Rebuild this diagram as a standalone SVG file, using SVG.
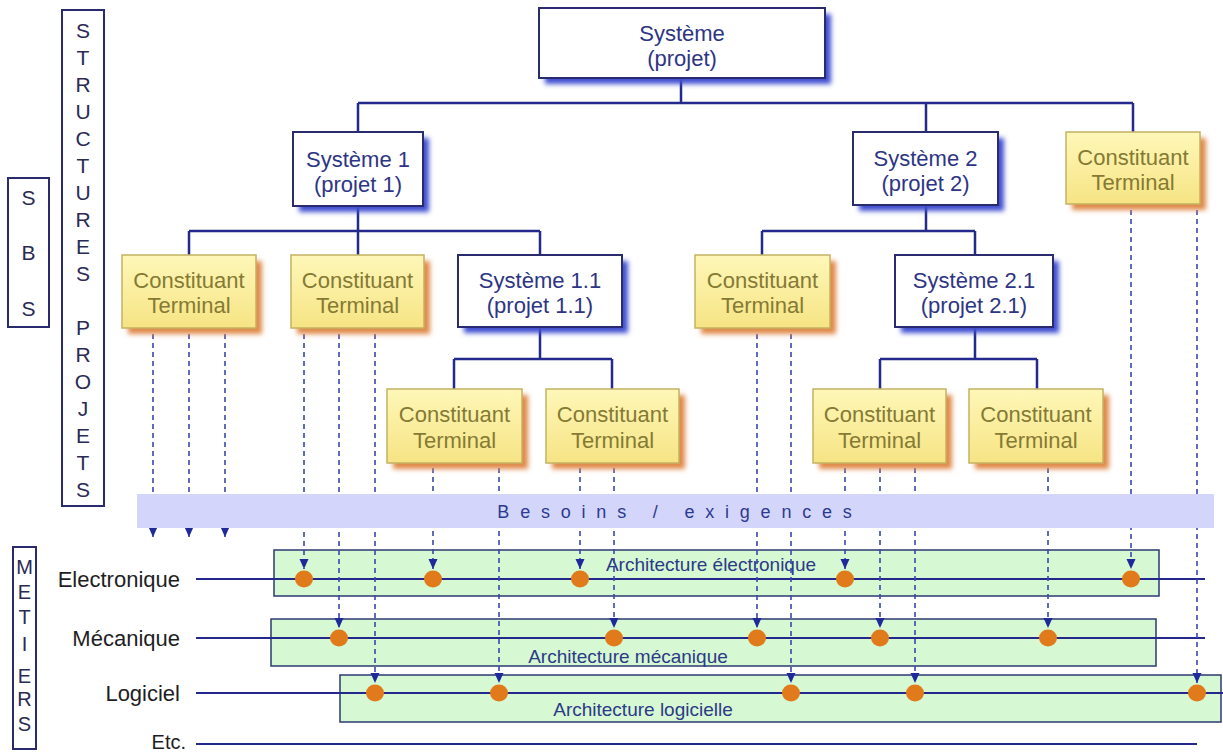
<svg xmlns="http://www.w3.org/2000/svg" width="1223" height="753" viewBox="0 0 1223 753">
<defs>
<style>
text{font-family:"Liberation Sans",Arial,sans-serif;}
.sys{fill:#ffffff;stroke:#2a2b6e;stroke-width:2;}
.ct{fill:url(#gY);stroke:#c4b263;stroke-width:1.5;}
.shB{fill:#3f4fd0;filter:url(#blur);}
.shY{fill:#e0894a;filter:url(#blur);}
.tS{font-size:22px;fill:#2e3584;text-anchor:middle;}
.tC{font-size:22px;fill:#857a34;text-anchor:middle;}
.conn{stroke:#232a8c;stroke-width:2.5;fill:none;}
.dash{stroke:#3a48a8;stroke-width:1.6;stroke-dasharray:5 4;fill:none;}
.met{stroke:#23288a;stroke-width:2;}
.grn{fill:#d6f8d2;stroke:#2c3a72;stroke-width:1.5;}
.dot{fill:#e07a1a;}
.lbl{font-size:22px;fill:#1e1e24;text-anchor:end;}
.arch{font-size:19px;fill:#2c3a88;text-anchor:middle;}
.vbox{fill:#ffffff;stroke:#2a2b6e;stroke-width:2;}
.vl{font-size:21px;fill:#2a2a55;text-anchor:middle;}
.vm{font-size:20px;fill:#2a2a55;text-anchor:middle;}
</style>
<linearGradient id="gY" x1="0" y1="0" x2="0" y2="1">
<stop offset="0" stop-color="#fef7b8"/>
<stop offset="1" stop-color="#f6e484"/>
</linearGradient>
<filter id="blur" x="-20%" y="-30%" width="140%" height="160%"><feGaussianBlur stdDeviation="2.5"/></filter>
<marker id="arr" markerUnits="userSpaceOnUse" markerWidth="10" markerHeight="10" viewBox="0 0 10 10" refX="10" refY="5" orient="auto">
<path d="M0,0.5 L10,5 L0,9.5 z" fill="#1f2a9a" stroke="none"/>
</marker>
</defs>
<rect x="0" y="0" width="1223" height="753" fill="#ffffff"/>

<!-- left vertical labels -->
<g id="sbs">
<rect class="vbox" x="8" y="178" width="41" height="149"/>
<text class="vl" x="28.5" y="205">S</text>
<text class="vl" x="28.5" y="260">B</text>
<text class="vl" x="28.5" y="316">S</text>
</g>
<g id="structures-projets">
<rect class="vbox" x="62" y="10" width="42" height="496"/>
<text class="vl" x="83" y="38">S</text>
<text class="vl" x="83" y="65">T</text>
<text class="vl" x="83" y="92">R</text>
<text class="vl" x="83" y="119">U</text>
<text class="vl" x="83" y="146">C</text>
<text class="vl" x="83" y="173">T</text>
<text class="vl" x="83" y="200">U</text>
<text class="vl" x="83" y="227">R</text>
<text class="vl" x="83" y="254">E</text>
<text class="vl" x="83" y="281">S</text>
<text class="vl" x="83" y="335">P</text>
<text class="vl" x="83" y="362">R</text>
<text class="vl" x="83" y="389">O</text>
<text class="vl" x="83" y="416">J</text>
<text class="vl" x="83" y="443">E</text>
<text class="vl" x="83" y="470">T</text>
<text class="vl" x="83" y="497">S</text>
</g>
<g id="metiers">
<rect class="vbox" x="13" y="547" width="23" height="202"/>
<text class="vm" x="24.5" y="574">M</text>
<text class="vm" x="24.5" y="599">E</text>
<text class="vm" x="24.5" y="624">T</text>
<text class="vm" x="24.5" y="651">I</text>
<text class="vm" x="24.5" y="683">E</text>
<text class="vm" x="24.5" y="706">R</text>
<text class="vm" x="24.5" y="731">S</text>
</g>

<!-- metier lanes -->
<g id="lanes">
<rect class="grn" x="274" y="550" width="885" height="46"/>
<rect class="grn" x="271" y="619" width="885" height="47"/>
<rect class="grn" x="340" y="675" width="881" height="47"/>
<line class="met" x1="196" y1="579" x2="1205" y2="579"/>
<line class="met" x1="196" y1="638" x2="1205" y2="638"/>
<line class="met" x1="196" y1="693" x2="1223" y2="693"/>
<line class="met" x1="196" y1="744" x2="1197" y2="744"/>
<text class="lbl" x="180" y="587">Electronique</text>
<text class="lbl" x="180" y="646">Mécanique</text>
<text class="lbl" x="180" y="701">Logiciel</text>
<text class="lbl" x="186" y="749" style="font-size:20px">Etc.</text>
<text class="arch" x="711" y="571">Architecture électronique</text>
<text class="arch" x="628" y="663">Architecture mécanique</text>
<text class="arch" x="643" y="716">Architecture logicielle</text>
</g>

<!-- connectors -->
<g id="connectors">
<path class="conn" d="M681,78 V103 M358,103 H1133 M358,103 V132 M926,103 V132 M1133,103 V132"/>
<path class="conn" d="M358,206 V231 M189,231 H540 M189,231 V255 M358,231 V255 M540,231 V255"/>
<path class="conn" d="M926,205 V231 M762,231 H975 M762,231 V255 M975,231 V255"/>
<path class="conn" d="M540,327 V359 M454,359 H612 M454,359 V389 M612,359 V389"/>
<path class="conn" d="M975,327 V359 M880,359 H1037 M880,359 V389 M1037,359 V389"/>
<g id="dashed">
<line class="dash" x1="153" y1="334" x2="153" y2="537" marker-end="url(#arr)"/>
<line class="dash" x1="189" y1="334" x2="189" y2="537" marker-end="url(#arr)"/>
<line class="dash" x1="225" y1="334" x2="225" y2="537" marker-end="url(#arr)"/>
<line class="dash" x1="304" y1="334" x2="304" y2="569" marker-end="url(#arr)"/>
<line class="dash" x1="339" y1="334" x2="339" y2="628" marker-end="url(#arr)"/>
<line class="dash" x1="375" y1="334" x2="375" y2="683" marker-end="url(#arr)"/>
<line class="dash" x1="433" y1="468" x2="433" y2="569" marker-end="url(#arr)"/>
<line class="dash" x1="499" y1="468" x2="499" y2="683" marker-end="url(#arr)"/>
<line class="dash" x1="580" y1="468" x2="580" y2="569" marker-end="url(#arr)"/>
<line class="dash" x1="614" y1="468" x2="614" y2="628" marker-end="url(#arr)"/>
<line class="dash" x1="757" y1="334" x2="757" y2="628" marker-end="url(#arr)"/>
<line class="dash" x1="791" y1="334" x2="791" y2="683" marker-end="url(#arr)"/>
<line class="dash" x1="845" y1="468" x2="845" y2="569" marker-end="url(#arr)"/>
<line class="dash" x1="880" y1="468" x2="880" y2="628" marker-end="url(#arr)"/>
<line class="dash" x1="915" y1="468" x2="915" y2="683" marker-end="url(#arr)"/>
<line class="dash" x1="1048" y1="468" x2="1048" y2="628" marker-end="url(#arr)"/>
<line class="dash" x1="1131" y1="210" x2="1131" y2="569" marker-end="url(#arr)"/>
<line class="dash" x1="1197" y1="210" x2="1197" y2="683" marker-end="url(#arr)"/>
</g>
</g>

<g id="dots">
<ellipse class="dot" cx="304" cy="579" rx="9" ry="8.5"/>
<ellipse class="dot" cx="433" cy="579" rx="9" ry="8.5"/>
<ellipse class="dot" cx="580" cy="579" rx="9" ry="8.5"/>
<ellipse class="dot" cx="845" cy="579" rx="9" ry="8.5"/>
<ellipse class="dot" cx="1131" cy="579" rx="9" ry="8.5"/>
<ellipse class="dot" cx="339" cy="638" rx="9" ry="8.5"/>
<ellipse class="dot" cx="614" cy="638" rx="9" ry="8.5"/>
<ellipse class="dot" cx="757" cy="638" rx="9" ry="8.5"/>
<ellipse class="dot" cx="880" cy="638" rx="9" ry="8.5"/>
<ellipse class="dot" cx="1048" cy="638" rx="9" ry="8.5"/>
<ellipse class="dot" cx="375" cy="693" rx="9" ry="8.5"/>
<ellipse class="dot" cx="499" cy="693" rx="9" ry="8.5"/>
<ellipse class="dot" cx="791" cy="693" rx="9" ry="8.5"/>
<ellipse class="dot" cx="915" cy="693" rx="9" ry="8.5"/>
<ellipse class="dot" cx="1197" cy="693" rx="9" ry="8.5"/>
</g>

<g id="besoins">
<rect x="137" y="494" width="1077" height="34" fill="#d3d6fa"/>
<text x="680" y="518" style="font-size:18px;fill:#2d3a90;text-anchor:middle;letter-spacing:10.8px">Besoins / exigences</text>
</g>

<!-- nodes -->
<g id="systeme">
<rect class="shB" x="545" y="14" width="286" height="70"/>
<rect class="sys" x="539" y="8" width="286" height="70"/>
<text class="tS" x="682" y="41">Système</text>
<text class="tS" x="682" y="66">(projet)</text>
</g>
<g id="systeme1">
<rect class="shB" x="299" y="138" width="130" height="74"/>
<rect class="sys" x="293" y="132" width="130" height="74"/>
<text class="tS" x="358" y="167">Système 1</text>
<text class="tS" x="358" y="192">(projet 1)</text>
</g>
<g id="systeme2">
<rect class="shB" x="859" y="138" width="145" height="73"/>
<rect class="sys" x="853" y="132" width="145" height="73"/>
<text class="tS" x="925.5" y="166">Système 2</text>
<text class="tS" x="925.5" y="191">(projet 2)</text>
</g>
<g id="ct-r">
<rect class="shY" x="1072" y="138" width="134" height="72"/>
<rect class="ct" x="1066" y="132" width="134" height="72"/>
<text class="tC" x="1133" y="165">Constituant</text>
<text class="tC" x="1133" y="190">Terminal</text>
</g>
<g id="ct-1a">
<rect class="shY" x="128" y="261" width="134" height="73"/>
<rect class="ct" x="122" y="255" width="134" height="73"/>
<text class="tC" x="189" y="288">Constituant</text>
<text class="tC" x="189" y="313">Terminal</text>
</g>
<g id="ct-1b">
<rect class="shY" x="297" y="261" width="133" height="73"/>
<rect class="ct" x="291" y="255" width="133" height="73"/>
<text class="tC" x="357.5" y="288">Constituant</text>
<text class="tC" x="357.5" y="313">Terminal</text>
</g>
<g id="systeme11">
<rect class="shB" x="464" y="261" width="164" height="72"/>
<rect class="sys" x="458" y="255" width="164" height="72"/>
<text class="tS" x="540" y="288">Système 1.1</text>
<text class="tS" x="540" y="313">(projet 1.1)</text>
</g>
<g id="ct-2a">
<rect class="shY" x="701" y="261" width="135" height="73"/>
<rect class="ct" x="695" y="255" width="135" height="73"/>
<text class="tC" x="762.5" y="288">Constituant</text>
<text class="tC" x="762.5" y="313">Terminal</text>
</g>
<g id="systeme21">
<rect class="shB" x="901" y="261" width="158" height="72"/>
<rect class="sys" x="895" y="255" width="158" height="72"/>
<text class="tS" x="974" y="288">Système 2.1</text>
<text class="tS" x="974" y="313">(projet 2.1)</text>
</g>
<g id="ct-11a">
<rect class="shY" x="393" y="395" width="135" height="74"/>
<rect class="ct" x="387" y="389" width="135" height="74"/>
<text class="tC" x="454.5" y="422">Constituant</text>
<text class="tC" x="454.5" y="448">Terminal</text>
</g>
<g id="ct-11b">
<rect class="shY" x="552" y="395" width="133" height="74"/>
<rect class="ct" x="546" y="389" width="133" height="74"/>
<text class="tC" x="612.5" y="422">Constituant</text>
<text class="tC" x="612.5" y="448">Terminal</text>
</g>
<g id="ct-21a">
<rect class="shY" x="819" y="395" width="133" height="74"/>
<rect class="ct" x="813" y="389" width="133" height="74"/>
<text class="tC" x="879.5" y="422">Constituant</text>
<text class="tC" x="879.5" y="448">Terminal</text>
</g>
<g id="ct-21b">
<rect class="shY" x="975" y="395" width="134" height="74"/>
<rect class="ct" x="969" y="389" width="134" height="74"/>
<text class="tC" x="1036" y="422">Constituant</text>
<text class="tC" x="1036" y="448">Terminal</text>
</g>
</svg>
